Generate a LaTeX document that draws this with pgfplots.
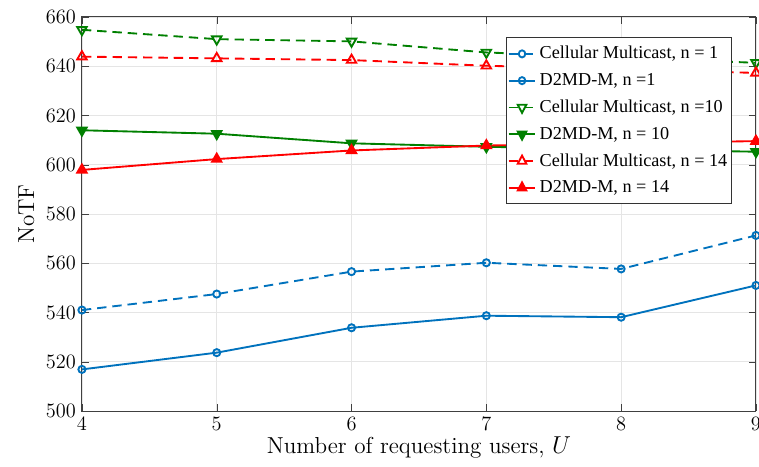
\documentclass[border=0pt]{standalone}
\usepackage{pgfplots}
\pgfplotsset{compat=1.18}
\usepackage{fontspec}
\newfontfamily\legfont{Liberation Serif}
\definecolor{mblue}{rgb}{0,0.447,0.741}
\definecolor{mgreen}{rgb}{0,0.5,0}
\definecolor{mred}{rgb}{1,0,0}
\begin{document}
\begin{tikzpicture}
\begin{axis}[
  scale only axis,
  width=396.5pt, height=231.8pt,
  xmin=4, xmax=9, ymin=500, ymax=660,
  xtick={4,5,6,7,8,9}, ytick={500,520,...,660},
  tick align=inside,
  major tick length=4pt,
  grid=major,
  grid style={gray!20, line width=0.5pt},
  axis line style={black!75, line width=0.6pt},
  tick style={black!75},
  ticklabel style={font=\fontsize{12}{14}\selectfont},
  label style={font=\fontsize{13.6}{16}\selectfont},
  xlabel={Number of requesting users, $U$},
  ylabel={NoTF},
  xlabel style={yshift=3pt},
  legend style={at={(0.972,0.972)}, anchor=north east, xshift=-3pt, yshift=-5.5pt,
    font=\legfont\fontsize{10.7}{12}\selectfont,
    draw=black!80, line width=0.5pt, row sep=3pt, inner xsep=0.5pt, inner ysep=3pt,
    cells={anchor=west}},
  legend image post style={xscale=0.92},
  every axis plot/.append style={line width=1.1pt},
]
\addplot[color=mblue, dash pattern=on 5.5pt off 3.5pt, mark=o, mark size=2.1pt, mark options={solid, fill=white}]
  coordinates {(4,541) (5,547.5) (6,556.6) (7,560.2) (8,557.7) (9,571.3)};
\addlegendentry{Cellular Multicast, n = 1}
\addplot[color=mblue, solid, mark=o, mark size=2.1pt, mark options={solid, fill=white}]
  coordinates {(4,516.9) (5,523.7) (6,533.8) (7,538.7) (8,538.1) (9,551)};
\addlegendentry{D2MD-M, n =1}
\addplot[color=mgreen, dash pattern=on 5.5pt off 3.5pt, mark=triangle, mark size=3.2pt, mark options={solid, fill=white, rotate=180}]
  coordinates {(4,654.8) (5,651) (6,650.1) (7,645.6) (8,643.5) (9,641.4)};
\addlegendentry{Cellular Multicast, n =10}
\addplot[color=mgreen, solid, mark=triangle*, mark size=3.2pt, mark options={solid, rotate=180}]
  coordinates {(4,614) (5,612.6) (6,608.7) (7,607.3) (8,606.2) (9,605.3)};
\addlegendentry{D2MD-M, n = 10}
\addplot[color=mred, dash pattern=on 5.5pt off 3.5pt, mark=triangle, mark size=3.2pt, mark options={solid, fill=white}]
  coordinates {(4,643.9) (5,643.2) (6,642.5) (7,640.2) (8,638.7) (9,637.3)};
\addlegendentry{Cellular Multicast, n = 14}
\addplot[color=mred, solid, mark=triangle*, mark size=3.2pt, mark options={solid}]
  coordinates {(4,597.9) (5,602.3) (6,605.8) (7,607.8) (8,608.7) (9,609.6)};
\addlegendentry{D2MD-M, n = 14}
\end{axis}
\pgfresetboundingbox
\path[use as bounding box] ([xshift=-48.2pt,yshift=-32.4pt]current axis.south west) rectangle ([xshift=1.8pt,yshift=10pt]current axis.north east);
\end{tikzpicture}
\end{document}
